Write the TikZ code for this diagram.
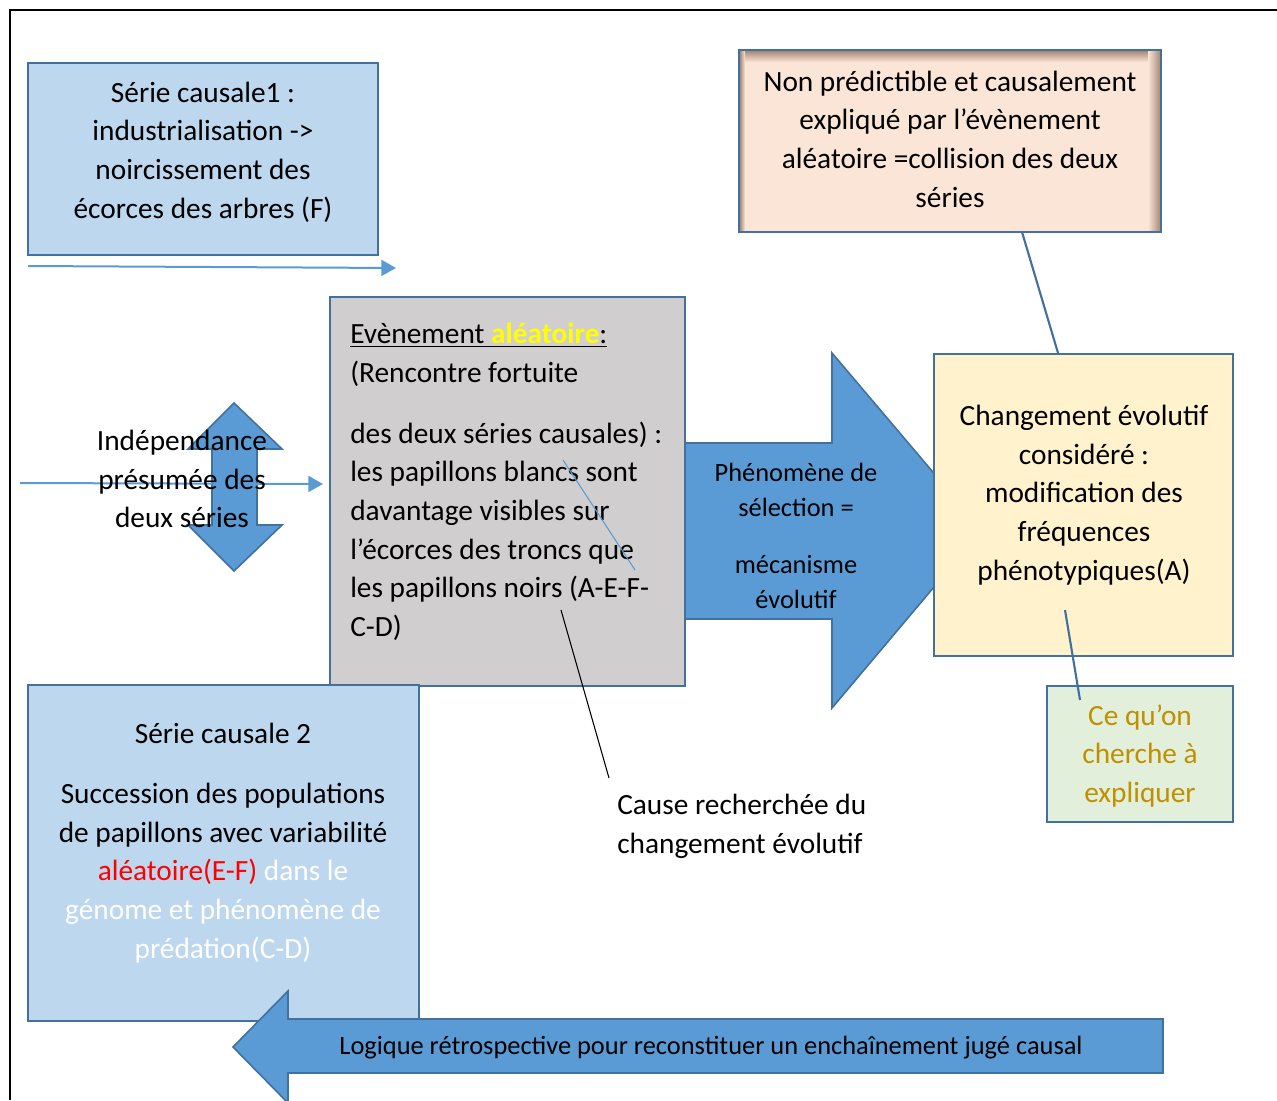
\documentclass[tikz,border=0pt]{standalone}
\usepackage{fontspec}
\setmainfont{Carlito}
\usetikzlibrary{fit,arrows.meta}
\definecolor{bord}{HTML}{41719C}
\definecolor{arr}{HTML}{5B9BD5}
\definecolor{lblue}{HTML}{BDD7EE}
\definecolor{greybox}{HTML}{D0CECE}
\definecolor{yel}{HTML}{FFF2CC}
\definecolor{peach}{HTML}{FBE5D6}
\definecolor{peachsh}{HTML}{A88A7A}
\definecolor{lgreen}{HTML}{E2EFDA}
\definecolor{gold}{HTML}{BF9000}
\definecolor{hiyel}{HTML}{FFFF00}
\begin{document}
\begin{tikzpicture}[x=0.75pt,y=-0.75pt,
  box/.style={draw=bord, line width=1.5pt, inner sep=0pt},
  bigarrow/.style={draw=bord, line width=1.2pt, fill=arr, line join=miter},
  thinarrow/.style={draw=arr, line width=1.5pt, -{Triangle[length=11pt,width=12pt]}},
  link/.style={draw=bord, line width=1.6pt},
  txt/.style={font=\fontsize{22}{29}\selectfont, inner sep=0pt, align=center},
  txtl/.style={font=\fontsize{22}{29}\selectfont, inner sep=0pt, align=left},
  stxt/.style={font=\fontsize{19.8}{26}\selectfont, inner sep=0pt, align=center}]
\useasboundingbox (0,0) rectangle (1277,1100);
% frame
\draw[line width=1.5pt] (10,1100) -- (10,10) -- (1277,10);
% box 1
\node[box, fill=lblue, fit={(28,63) (378,255)}] (b1) {};
\node[txt] (t1) at (203,152) {Série causale1 :\\industrialisation ->\\noircissement des\\écorces des arbres (F)};
\coordinate (a1s) at (28,266);
\coordinate (a1e) at (396,268);
\draw[thinarrow] (a1s) -- (a1e);
% grey box
\node[box, fill=greybox, fit={(330,297) (685,686)}] (gb) {};
\node[txtl, anchor=west] (g1) at (350,355) {\underline{Evènement \textcolor{hiyel}{\textbf{aléatoire}}:}\\(Rencontre fortuite};
\node[txtl, anchor=west] (g2) at (350,531) {des deux séries causales) :\\les papillons blancs sont\\davantage visibles sur\\l’écorces des troncs que\\les papillons noirs (A-E-F-\\C-D)};
% double arrow
\path[bigarrow] (234,403) -- (282,449) -- (257,449) -- (257,525) -- (282,525) -- (234,571)
  -- (188,525) -- (212,525) -- (212,449) -- (188,449) -- cycle;
\coordinate (a2s) at (20,483);
\coordinate (a2e) at (323,484);
\draw[thinarrow] (a2s) -- (a2e);
\node[txt] (ind) at (182,479) {Indépendance\\présumée des\\deux séries};
% big selection arrow
\path[bigarrow] (685,443) -- (832,443) -- (832,353) -- (982,530) -- (832,708) -- (832,619) -- (685,619) -- cycle;
\node[stxt] (sel) at (796,536) {Phénomène de\\sélection =\\[17pt]mécanisme\\évolutif};
% yellow box
\node[box, fill=yel, fit={(934,354) (1233,656)}] (yb) {};
\node[txt] (ty) at (1084,495) {Changement évolutif\\considéré :\\modification des\\fréquences\\phénotypiques(A)};
% peach box
\node[box, fill=peach, fit={(739,50) (1161,232)}] (pb) {};
\shade[top color=peachsh, bottom color=peach] (740,51) rectangle (1160,62);
\shade[left color=peach, right color=peachsh] (1148,51) rectangle (1160,231);
\shade[left color=peachsh, right color=peach] (740,51) rectangle (745,231);
\draw[bord, line width=1.5pt] (739,50) rectangle (1161,232);
\node[txt] (tp) at (950,139) {Non prédictible et causalement\\expliqué par l’évènement\\aléatoire =collision des deux\\séries};
\coordinate (l1s) at (1022,232);
\coordinate (l1e) at (1058,353);
\draw[link] (l1s) -- (l1e);
% green box
\node[box, fill=lgreen, fit={(1047,686) (1233,822)}] (grb) {};
\node[txt, text=gold] (tg) at (1140,756) {Ce qu’on\\cherche à\\expliquer};
\coordinate (l2s) at (1065,610);
\coordinate (l2e) at (1080,700);
\draw[link] (l2s) -- (l2e);
% thin lines
\coordinate (l3s) at (563,460);
\coordinate (l3e) at (635,570);
\draw[arr, line width=0.8pt] (l3s) -- (l3e);
\coordinate (l4s) at (561,610);
\coordinate (l4e) at (609,778);
\draw[black, line width=0.8pt] (l4s) -- (l4e);
\node[txtl, anchor=west] (cause) at (617,826) {Cause recherchée du\\changement évolutif};
% box 2
\node[box, fill=lblue, fit={(28,685) (419,1021)}] (b2) {};
\node[txt] (t2) at (223,843) {Série causale 2\\[16pt]Succession des populations\\de papillons avec variabilité\\\textcolor{red}{aléatoire(E-F)} \textcolor{white}{dans le}\\\textcolor{white}{génome et phénomène de}\\\textcolor{white}{prédation(C-D)}};
% bottom arrow
\path[bigarrow] (233,1047) -- (288,991) -- (288,1019) -- (1163,1019) -- (1163,1073) -- (288,1073) -- (288,1103) -- cycle;
\node[stxt] (tb) at (711,1048) {Logique rétrospective pour reconstituer un enchaînement jugé causal};
\end{tikzpicture}
\end{document}
